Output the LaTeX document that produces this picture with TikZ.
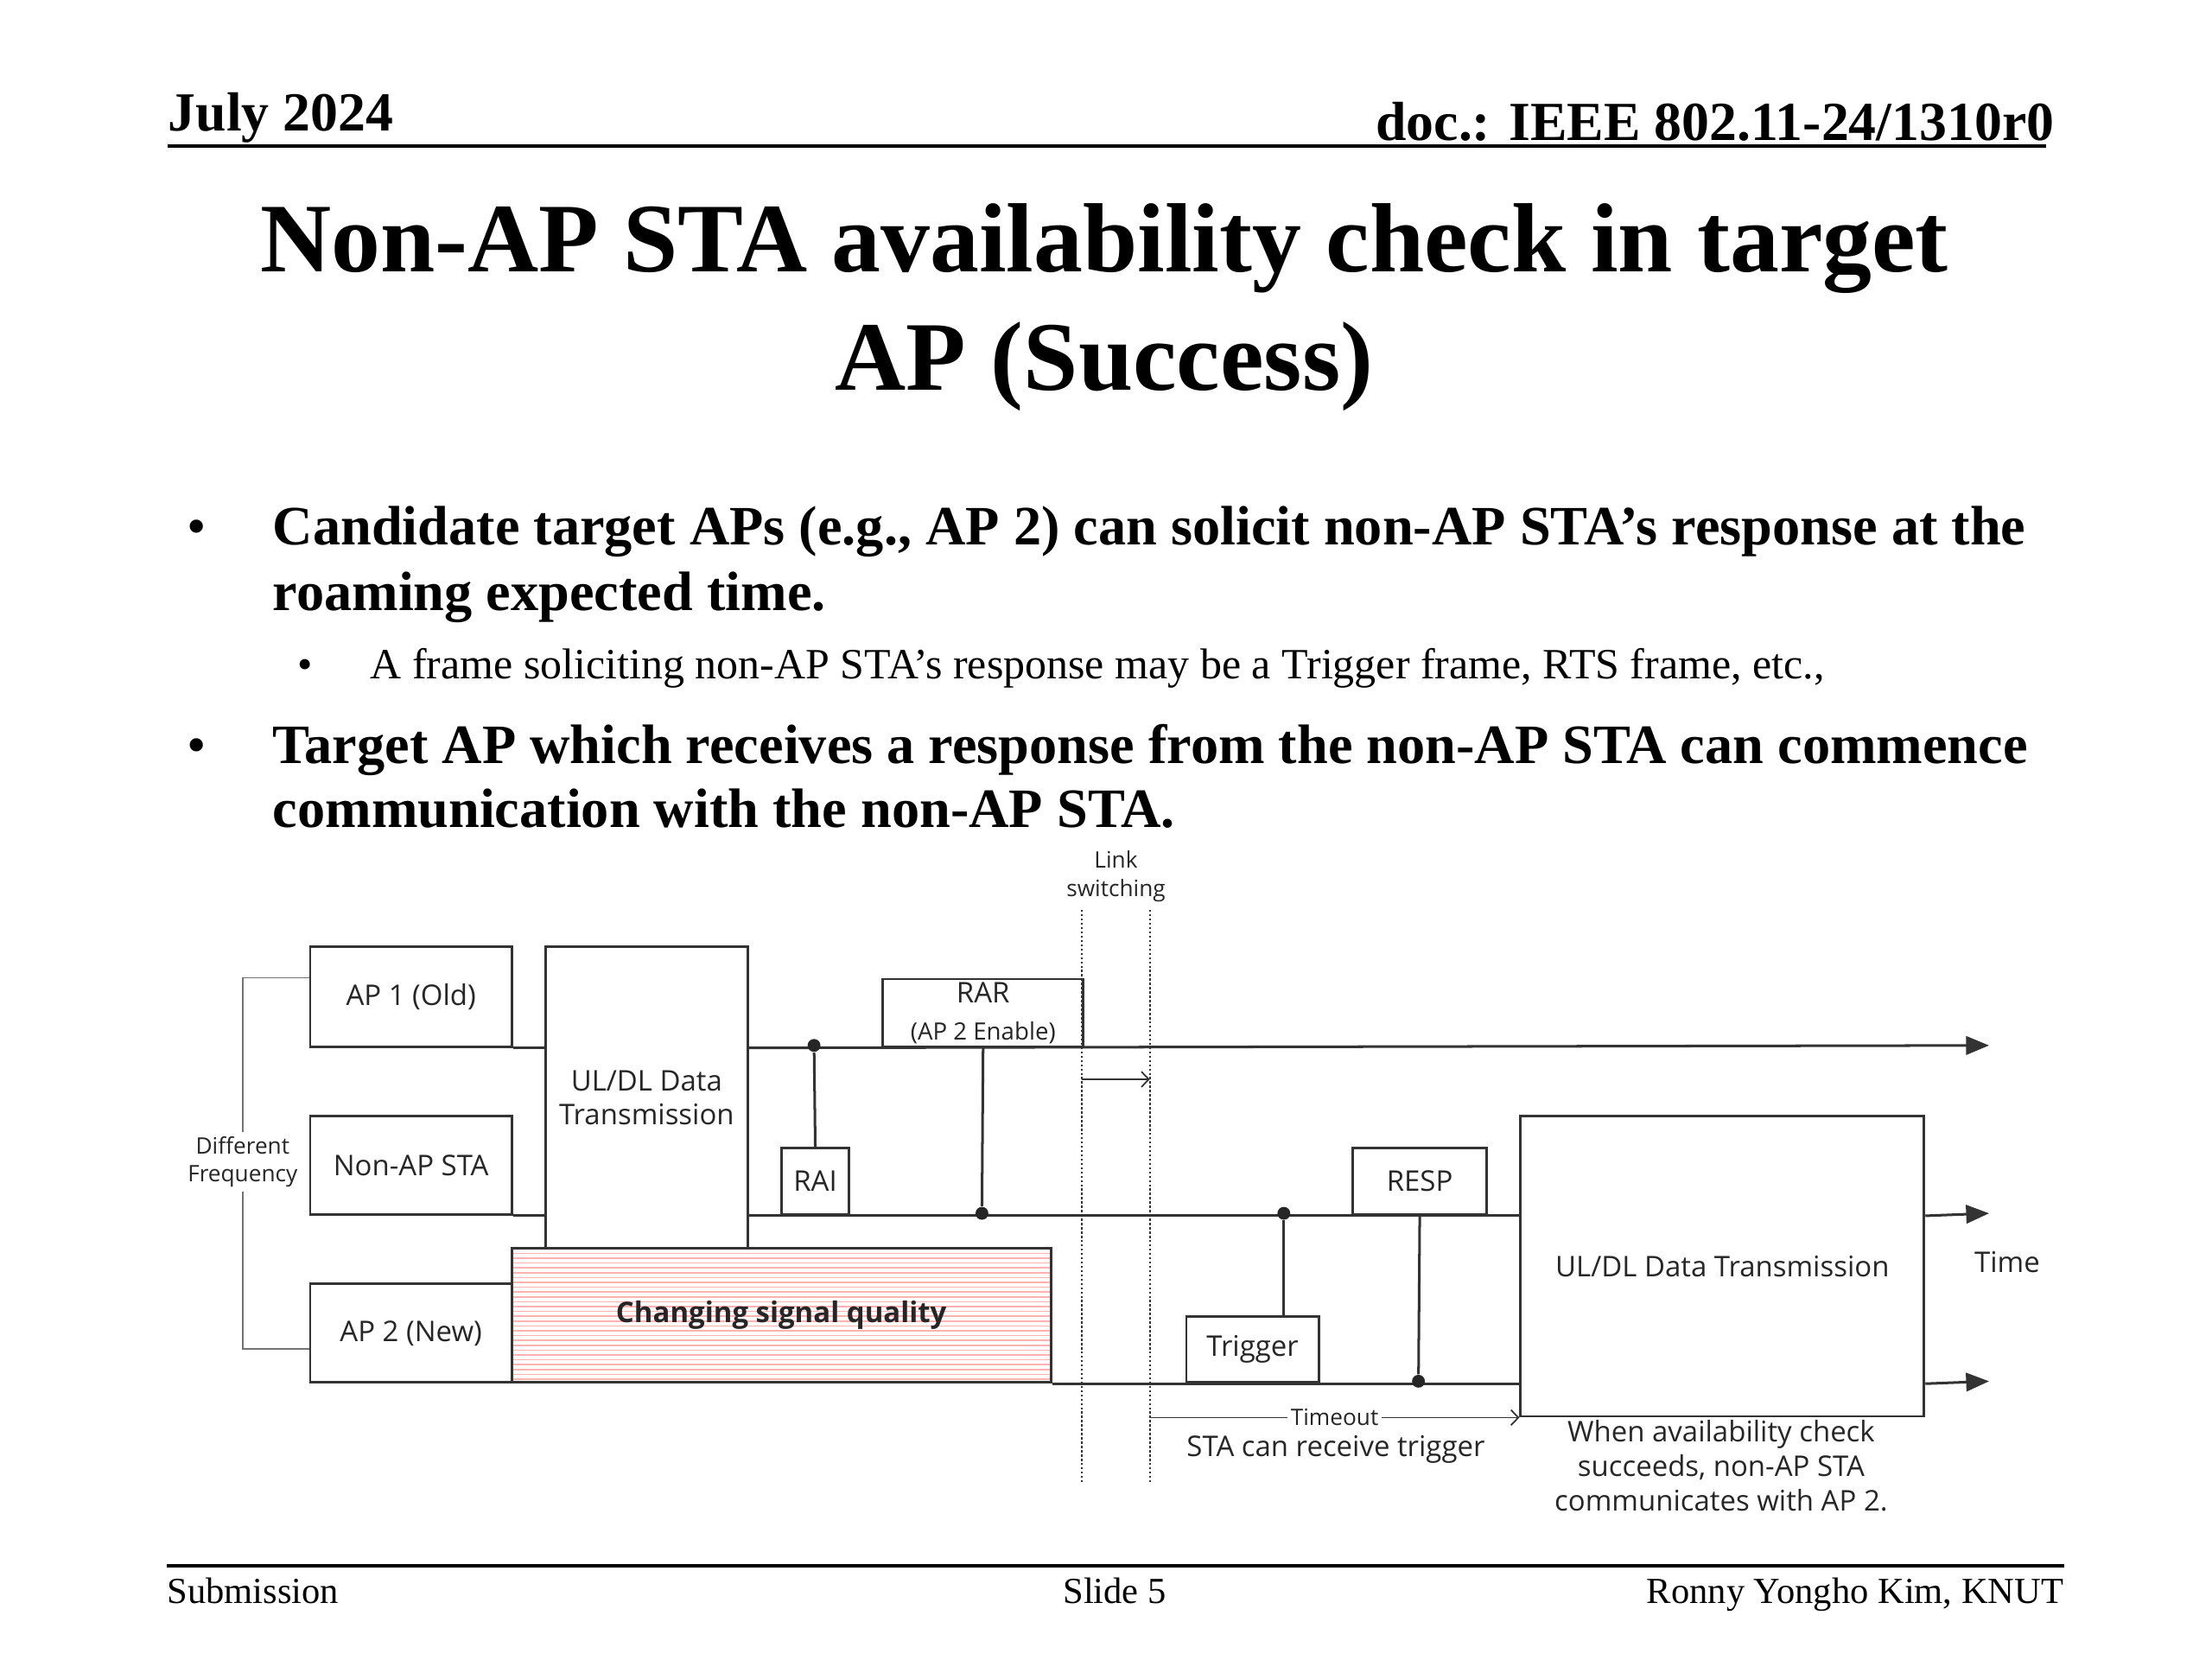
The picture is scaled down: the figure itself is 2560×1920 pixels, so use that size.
\documentclass[tikz,border=0pt]{standalone}
\usepackage{fontspec}
\setmainfont{Liberation Serif}
\newfontfamily\diagfont{Open Sans}
\usetikzlibrary{arrows.meta,positioning}

% one pixel of the slide (2560 px = 25.4 cm)
\newcommand{\pxu}{0.0099219cm}

\tikzset{
  txt/.style={inner sep=0pt, anchor=base west},
  frame/.style={draw=black!80, line width=0.8pt, fill=white, inner sep=0pt,
    anchor=north west, align=center, text=black!85,
    font=\diagfont\fontsize{9.3}{11}\selectfont},
  timeline/.style={draw=black!80, line width=0.85pt},
  timearrow/.style={timeline, -{Triangle[length=7.5pt,width=6pt]}},
  thinarrow/.style={draw=black!80, line width=0.5pt, -{Straight Barb[length=2.4pt,width=5pt]}},
  dotmark/.style={circle, fill=black!85, inner sep=0pt, minimum size=4.2pt},
  guide/.style={draw=black!80, line width=0.5pt, dash pattern=on 0.7pt off 0.7pt},
  bracket/.style={draw=black!55, line width=0.45pt},
  hatch/.style={draw=red!30, line width=0.45pt},
  note/.style={inner sep=0pt, align=center, text=black!85,
    font=\diagfont\fontsize{9.3}{11.3}\selectfont},
  smallnote/.style={inner sep=0pt, align=center, text=black!85,
    font=\diagfont\fontsize{7.4}{9.2}\selectfont},
}

\begin{document}
\begin{tikzpicture}[x=\pxu, y=-\pxu]
    \useasboundingbox (0,0) rectangle (2560,1920);

    % Kop halaman
    \node[txt, font=\fontsize{18}{21.6}\selectfont\bfseries] (date) at (194,152) {July 2024};
    \node[txt, anchor=base east, font=\fontsize{18}{21.6}\selectfont\bfseries] (doc) at (2378,163) {doc.: IEEE 802.11-24/1310r0};
    \draw[line width=0.9pt] (194,169) -- (2368,169);

    % Judul
    \node[inner sep=0pt, anchor=base, font=\fontsize{32.1}{38}\selectfont\bfseries] (title1) at (1278,315) {Non-AP STA availability check in target};
    \node[inner sep=0pt, anchor=base, font=\fontsize{32.1}{38}\selectfont\bfseries] (title2) at (1278,451) {AP (Success)};

    % Butir-butir
    \node[inner sep=0pt, anchor=base, font=\fontsize{18}{21.6}\selectfont] (bul1) at (228,630) {•};
    \node[txt, font=\fontsize{18.15}{21.6}\selectfont\bfseries] (b1a) at (315,630) {Candidate target APs (e.g., AP 2) can solicit non-AP STA’s response at the};
    \node[txt, font=\fontsize{18.15}{21.6}\selectfont\bfseries] (b1b) at (315,706) {roaming expected time.};
    \node[inner sep=0pt, anchor=base, font=\fontsize{14}{16.8}\selectfont] (bul2) at (353,785) {•};
    \node[txt, font=\fontsize{14.1}{16.8}\selectfont] (b2) at (428,785) {A frame soliciting non-AP STA’s response may be a Trigger frame, RTS frame, etc.,};
    \node[inner sep=0pt, anchor=base, font=\fontsize{18}{21.6}\selectfont] (bul3) at (228,883) {•};
    \node[txt, font=\fontsize{18.15}{21.6}\selectfont\bfseries] (b3a) at (315,883) {Target AP which receives a response from the non-AP STA can commence};
    \node[txt, font=\fontsize{18.15}{21.6}\selectfont\bfseries] (b3b) at (315,957) {communication with the non-AP STA.};

    % Kotak-kotak diagram
    \node[frame, minimum width=233.4*\pxu, minimum height=115.9*\pxu] (ap1) at (357.6,1093.9) {AP 1 (Old)};
    \node[frame, minimum width=233.4*\pxu, minimum height=114.3*\pxu] (sta) at (357.6,1289.8) {Non-AP STA};
    \node[frame, minimum width=233.4*\pxu, minimum height=114.3*\pxu] (ap2) at (357.6,1484.1) {AP 2 (New)};
    \node[frame, minimum width=233.5*\pxu, minimum height=349.4*\pxu] (data1) at (630.2,1093.9) {UL/DL Data\\Transmission};
    \node[frame, minimum width=623.7*\pxu, minimum height=155.1*\pxu,
      font=\diagfont\bfseries\fontsize{9.3}{11}\selectfont,
      path picture={\foreach \k in {1,...,27}
        \draw[hatch] ([yshift=-\k*5.6*\pxu]path picture bounding box.north west) -- ([yshift=-\k*5.6*\pxu]path picture bounding box.north east);}]
      (qual) at (591,1443.3) {Changing signal quality};
    \node[frame, minimum width=231.9*\pxu, minimum height=78.3*\pxu,
      font=\diagfont\fontsize{9.3}{12.1}\selectfont] (rar) at (1020.4,1131.5) {RAR\\{\fontsize{7.8}{9}\selectfont (AP 2 Enable)}};
    \node[frame, minimum width=78.4*\pxu, minimum height=76.7*\pxu] (rai) at (902.9,1327.4) {RAI};
    \node[frame, minimum width=153.4*\pxu, minimum height=76.7*\pxu] (trig) at (1371.5,1521.7) {Trigger};
    \node[frame, minimum width=155.1*\pxu, minimum height=76.7*\pxu] (resp) at (1564.1,1327.4) {RESP};
    \node[frame, minimum width=467*\pxu, minimum height=347.8*\pxu] (data2) at (1758.4,1289.8) {UL/DL Data Transmission};

    % Garis waktu
    \coordinate (end1) at (2302,1209.8);
    \coordinate (end2) at (2302,1404.1);
    \coordinate (end3) at (2302,1598.4);
    \draw[timeline] (ap1.south east) -- (ap1.south east -| data1.west);
    \draw[timearrow] (ap1.south east -| data1.east) -- (end1);
    \draw[timeline] (sta.south east) -- (sta.south east -| data1.west);
    \draw[timeline] (sta.south east -| data1.east) -- (sta.south east -| data2.west);
    \draw[timearrow] (sta.south east -| data2.east) -- (end2);
    \draw[timeline] (qual.south east) -- (qual.south east -| data2.west);
    \draw[timearrow] (qual.south east -| data2.east) -- (end3);
    \node[note] (time) at (2323,1461) {Time};

    % Titik-titik sambungan
    \node[dotmark] (d1) at (942.1,1209.8) {};
    \draw[timeline] (d1) -- (rai.north);
    \node[dotmark] (d2) at (1136.4,1404.1) {};
    \draw[timeline] (rar.south) -- (d2);
    \node[dotmark] (d3) at (1485.8,1404.1) {};
    \draw[timeline] (d3) -- (d3 |- trig.north);
    \node[dotmark] (d4) at (1641.6,1598.4) {};
    \draw[timeline] (resp.south) -- (d4);

    % Kurung frekuensi
    \coordinate (fq1) at (280.8,1131.5);
    \coordinate (fq2) at (280.8,1560.9);
    \draw[bracket] (ap1.west |- fq1) -- (fq1) -- (fq2) -- (ap2.west |- fq2);
    \node[smallnote, fill=white, inner sep=1.5pt] (freq) at (280.8,1344.5) {Different\\Frequency};

    % Perpindahan link
    \coordinate (ls1top) at (1252.3,1053);
    \coordinate (ls1bot) at (1252.3,1717.6);
    \coordinate (ls2top) at (1330.7,1053);
    \coordinate (ls2bot) at (1330.7,1717.6);
    \draw[guide] (ls1top) -- (ls1bot);
    \draw[guide] (ls2top) -- (ls2bot);
    \node[smallnote] (link) at (1291.5,1014) {Link\\switching};
    \coordinate (sw1) at (1252.3,1249);
    \coordinate (sw2) at (1330.7,1249);
    \draw[thinarrow] (sw1) -- (sw2);

    % Timeout dan keterangan
    \draw[thinarrow] (ls2bot |- data2.south) -- node[smallnote, fill=white, inner sep=1pt] (tout) {Timeout} (data2.south west);
    \node[note] (recv) at (1546,1677) {STA can receive trigger};
    \node[note] (succ) at (1991.9,1696.4) {When availability check\\succeeds, non-AP STA\\communicates with AP 2.};

    % Kaki halaman
    \draw[line width=0.9pt] (193,1812) -- (2389,1812);
    \node[txt, font=\fontsize{12}{14.4}\selectfont] (sub) at (193,1855) {Submission};
    \node[inner sep=0pt, anchor=base, font=\fontsize{12}{14.4}\selectfont] (slide) at (1290,1855) {Slide 5};
    \node[inner sep=0pt, anchor=base east, font=\fontsize{12}{14.4}\selectfont] (auth) at (2389,1855) {Ronny Yongho Kim, KNUT};
\end{tikzpicture}
\end{document}
